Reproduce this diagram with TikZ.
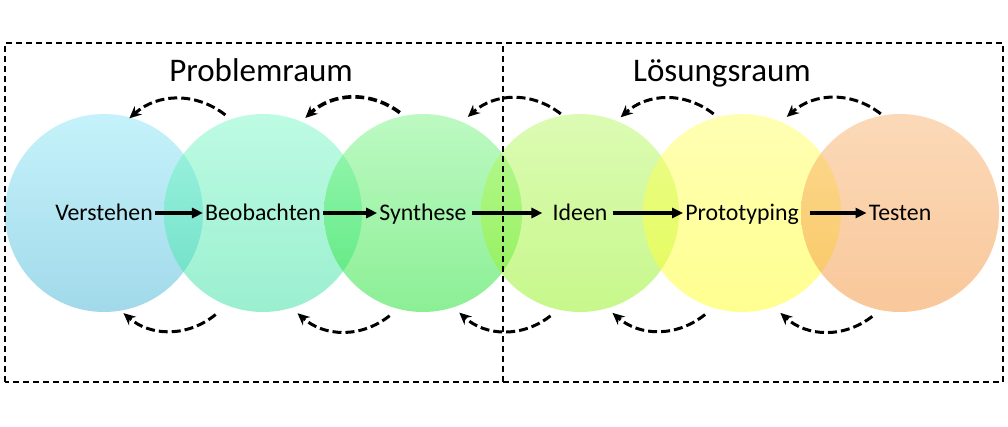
\documentclass[tikz,border=0pt]{standalone}
\usepackage{fontspec}
\setmainfont{Carlito}
\usetikzlibrary{arrows.meta,calc}

\definecolor{verstehenTop}{RGB}{141,231,247}
\definecolor{verstehenBot}{RGB}{69,181,215}
\definecolor{beobachtenTop}{RGB}{125,249,201}
\definecolor{beobachtenBot}{RGB}{55,225,161}
\definecolor{syntheseTop}{RGB}{125,245,135}
\definecolor{syntheseBot}{RGB}{25,225,45}
\definecolor{ideenTop}{RGB}{185,249,105}
\definecolor{ideenBot}{RGB}{145,241,25}
\definecolor{prototypTop}{RGB}{255,255,105}
\definecolor{prototypBot}{RGB}{255,255,35}
\definecolor{testenTop}{RGB}{249,181,115}
\definecolor{testenBot}{RGB}{245,145,55}

\tikzset{
  bubble/.style={circle, minimum size=198pt, inner sep=0pt, draw=none, fill opacity=0.5},
  phase/.style={inner sep=2pt, text height=14.5pt, text depth=0pt,
    font=\fontsize{23.8}{28}\selectfont},
  raum/.style={anchor=base, font=\fontsize{33}{38}\selectfont},
  frame/.style={dash pattern=on 6pt off 4pt, line width=1.5pt},
  flow/.style={-{Triangle[length=11pt,width=10pt]}, line width=3.2pt},
  back/.style={-{Stealth[length=12pt,width=11pt]}, line width=3pt,
    dash pattern=on 9pt off 4pt}
}

\begin{document}
\begin{tikzpicture}[x=1pt,y=1pt]
\fill[white] (0,0) rectangle (1008,426);
\useasboundingbox (0,0) rectangle (1008,426);

% circles
\node[bubble, top color=verstehenTop, bottom color=verstehenBot] (c1) at (104,213) {};
\node[bubble, top color=beobachtenTop, bottom color=beobachtenBot] (c2) at (263,213) {};
\node[bubble, top color=syntheseTop, bottom color=syntheseBot] (c3) at (423,213) {};
\node[bubble, top color=ideenTop, bottom color=ideenBot] (c4) at (580,213) {};
\node[bubble, top color=prototypTop, bottom color=prototypBot] (c5) at (742,213) {};
\node[bubble, top color=testenTop, bottom color=testenBot] (c6) at (900,213) {};

% frames
\draw[frame] (5,44) rectangle (1003,383);
\draw[frame] (503,44) -- (503,383);

\node[raum] (problem) at (261,344) {Problemraum};
\node[raum] (loesung) at (722,344) {Lösungsraum};

% phases
\node[phase] (verstehen) at (c1) {Verstehen};
\node[phase] (beobachten) at (c2) {Beobachten};
\node[phase] (synthese) at (c3) {Synthese};
\node[phase] (ideen) at (c4) {Ideen};
\node[phase] (prototyping) at (c5) {Prototyping};
\node[phase] (testen) at (c6) {Testen};

\draw[flow] (verstehen) -- (beobachten);
\draw[flow] (beobachten) -- (synthese);
\draw[flow] ([xshift=3pt]synthese.east) -- ([xshift=-8pt]ideen.west);
\draw[flow] ([xshift=3pt]ideen.east) -- (prototyping);
\draw[flow] ([xshift=9pt]prototyping.east) -- (testen);

% loops back, top
\draw[back] ($(c2)+(111:105)$) to[bend right=40] ($(c1)+(75:98)$);
\draw[back, line width=3.6pt] ($(c3)+(103:103)$) to[bend right=40] ($(c2)+(66:104)$);
\draw[back] ($(c4)+(101:101)$) to[bend right=40] ($(c3)+(65:106)$);
\draw[back] ($(c5)+(106:103)$) to[bend right=40] ($(c4)+(67:104)$);
\draw[back] ($(c6)+(101:101)$) to[bend right=40] ($(c5)+(65:106)$);

% loops back, bottom
\draw[back] ($(c2)+(245:112)$) to[bend left=40] ($(c1)+(281:102)$);
\draw[back] ($(c3)+(252:108)$) to[bend left=40] ($(c2)+(289:106)$);
\draw[back] ($(c4)+(254:107)$) to[bend left=40] ($(c3)+(290:106)$);
\draw[back] ($(c5)+(250:108)$) to[bend left=40] ($(c4)+(288:105)$);
\draw[back] ($(c6)+(255:107)$) to[bend left=40] ($(c5)+(291:107)$);
\end{tikzpicture}
\end{document}
